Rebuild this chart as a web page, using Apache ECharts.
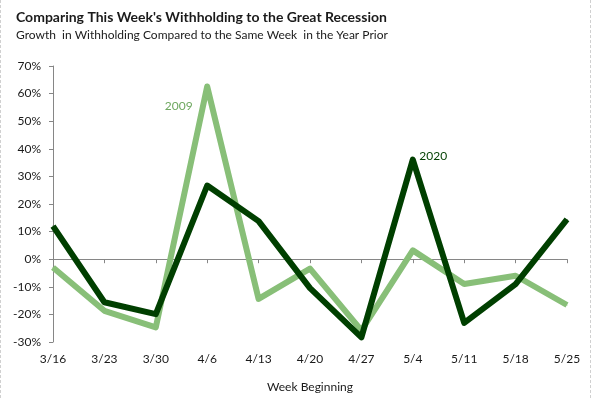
<!DOCTYPE html>
<html>
<head>
<meta charset="utf-8">
<script src="https://cdn.jsdelivr.net/npm/echarts@6/dist/echarts.min.js"></script>
<style>
  html, body { margin: 0; padding: 0; background: #fff; }
  #chart {
    width: 591px; height: 398px; box-sizing: border-box;
    border-left: 1px dashed #d0d0d0; border-right: 1px dashed #d0d0d0;
  }
</style>
</head>
<body>
<div id="chart"></div>
<script>
const weeks = ['3/16', '3/23', '3/30', '4/6', '4/13', '4/20', '4/27', '5/4', '5/11', '5/18', '5/25'];
const growth2009 = [-3.0, -18.7, -24.7, 62.6, -14.4, -3.4, -25.8, 3.2, -9.0, -6.0, -16.6];
const growth2020 = [12.0, -15.6, -19.9, 26.7, 13.8, -10.5, -28.3, 36.1, -23.1, -9.0, 14.4];
const yTicks = { min: -30, max: 70, step: 10 };

const LIGHT = '#88bf78';
const DARK = '#003f00';
const FONT = 'Lato, "Open Sans", sans-serif';

// put a series name label next to one point
function withLabel(values, idx, label) {
  return values.map((v, i) => i === idx ? { value: v, label: label } : v);
}

const chart = echarts.init(document.getElementById('chart'));

chart.setOption({
  animation: false,
  textStyle: { fontFamily: FONT },
  title: {
    text: "Comparing This Week's Withholding to the Great Recession",
    subtext: 'Growth  in Withholding Compared to the Same Week  in the Year Prior',
    left: 10,
    top: 5,
    itemGap: 5,
    textStyle: { fontSize: 14, fontWeight: 'bold', color: '#1a1a1a', fontFamily: FONT },
    subtextStyle: { fontSize: 12, color: '#1a1a1a', fontFamily: FONT }
  },
  grid: { left: 52, right: 23, top: 66, bottom: 54 },
  xAxis: {
    type: 'category',
    data: weeks,
    boundaryGap: false,
    name: 'Week Beginning',
    nameLocation: 'middle',
    nameGap: 39,
    nameTextStyle: { fontSize: 12, color: '#1a1a1a' },
    axisLine: { lineStyle: { color: '#868686', width: 1 } },
    axisTick: { alignWithLabel: true, length: 4, lineStyle: { color: '#868686' } },
    axisLabel: { fontSize: 12, color: '#1a1a1a', margin: 11 },
    splitLine: { show: false }
  },
  yAxis: {
    type: 'value',
    min: yTicks.min,
    max: yTicks.max,
    interval: yTicks.step,
    axisLine: { show: true, lineStyle: { color: '#868686', width: 1 } },
    axisTick: { show: true, length: 4, lineStyle: { color: '#868686' } },
    axisLabel: { fontSize: 12, color: '#1a1a1a', margin: 12, formatter: '{value}%' },
    splitLine: { show: false }
  },
  series: [
    {
      name: '2009',
      type: 'line',
      data: withLabel(growth2009, 3, {
        show: true, position: 'left', distance: 14, offset: [0, 20],
        formatter: '2009', color: '#6fa860', fontSize: 12
      }),
      symbol: 'circle',
      symbolSize: 1,
      itemStyle: { color: LIGHT },
      lineStyle: { color: LIGHT, width: 6, join: 'round' },
      z: 2
    },
    {
      name: '2020',
      type: 'line',
      data: withLabel(growth2020, 7, {
        show: true, position: 'right', distance: 6, offset: [0, -3],
        formatter: '2020', color: DARK, fontSize: 12
      }),
      symbol: 'circle',
      symbolSize: 1,
      itemStyle: { color: DARK },
      lineStyle: { color: DARK, width: 6, join: 'round' },
      z: 3
    }
  ]
});
</script>
</body>
</html>
